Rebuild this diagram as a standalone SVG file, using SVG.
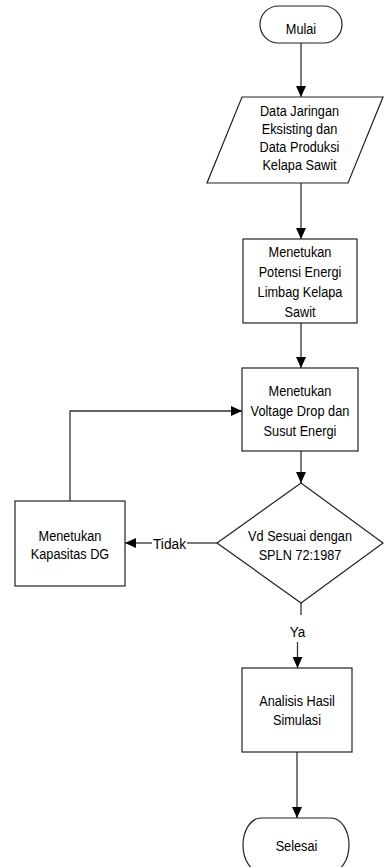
<svg xmlns="http://www.w3.org/2000/svg" width="384" height="867" viewBox="0 0 384 867">
<defs>
<marker id="ah" viewBox="0 0 11 10" refX="11" refY="5" markerWidth="11" markerHeight="10" markerUnits="userSpaceOnUse" orient="auto">
<path d="M0,0 L11,5 L0,10 Z" fill="#000"/>
</marker>
<style>
.s{fill:#fff;stroke:#222;stroke-width:1.2}
.c{fill:none;stroke:#333;stroke-width:1.3}
text{font-family:"Liberation Sans",Arial,sans-serif;font-size:15.5px;fill:#000;text-anchor:middle}
</style>
</defs>
<rect width="384" height="867" fill="#fff"/>
<g id="connectors">
<line class="c" x1="301" y1="43" x2="301" y2="97" marker-end="url(#ah)"/>
<line class="c" x1="301" y1="183" x2="301" y2="239" marker-end="url(#ah)"/>
<line class="c" x1="301" y1="323" x2="301" y2="368" marker-end="url(#ah)"/>
<line class="c" x1="301" y1="451" x2="301" y2="483" marker-end="url(#ah)"/>
<polyline class="c" points="217,543 187,543"/>
<line class="c" x1="152" y1="543" x2="125" y2="543" marker-end="url(#ah)"/>
<text x="169.5" y="548.5" textLength="33" lengthAdjust="spacingAndGlyphs">Tidak</text>
<polyline class="c" points="70,501 70,411 242,411" marker-end="url(#ah)"/>
<line class="c" x1="301" y1="603" x2="301" y2="615"/>
<text x="297.5" y="637" textLength="15.5" lengthAdjust="spacingAndGlyphs">Ya</text>
<line class="c" x1="297.5" y1="642" x2="297.5" y2="668" marker-end="url(#ah)"/>
<line class="c" x1="297" y1="752" x2="297" y2="818" marker-end="url(#ah)"/>
</g>
<g id="mulai">
<rect class="s" x="260" y="6" width="82" height="37" rx="18.5" ry="18.5"/>
<text x="301" y="33.5" textLength="30.4" lengthAdjust="spacingAndGlyphs">Mulai</text>
</g>
<g id="data">
<polygon class="s" points="242,97 383,97 348,183 207,183"/>
<text x="299.5" y="115.5" textLength="79.1" lengthAdjust="spacingAndGlyphs">Data Jaringan</text>
<text x="299.5" y="133.5" textLength="75.6" lengthAdjust="spacingAndGlyphs">Eksisting dan</text>
<text x="299.5" y="151.5" textLength="79.8" lengthAdjust="spacingAndGlyphs">Data Produksi</text>
<text x="299.5" y="169.5" textLength="74.2" lengthAdjust="spacingAndGlyphs">Kelapa Sawit</text>
</g>
<g id="potensi">
<rect class="s" x="243" y="239" width="114" height="84"/>
<text x="300" y="257" textLength="62.9" lengthAdjust="spacingAndGlyphs">Menetukan</text>
<text x="300" y="277" textLength="82.7" lengthAdjust="spacingAndGlyphs">Potensi Energi</text>
<text x="300" y="297" textLength="84.8" lengthAdjust="spacingAndGlyphs">Limbag Kelapa</text>
<text x="300" y="317" textLength="31.1" lengthAdjust="spacingAndGlyphs">Sawit</text>
</g>
<g id="voltage">
<rect class="s" x="242" y="368" width="116" height="83"/>
<text x="300" y="395.5" textLength="62.9" lengthAdjust="spacingAndGlyphs">Menetukan</text>
<text x="300" y="416" textLength="98.9" lengthAdjust="spacingAndGlyphs">Voltage Drop dan</text>
<text x="300" y="436" textLength="72.8" lengthAdjust="spacingAndGlyphs">Susut Energi</text>
</g>
<g id="decision">
<polygon class="s" points="301,483 383,543 301,603 217,543"/>
<text x="300" y="540.5" textLength="103.9" lengthAdjust="spacingAndGlyphs">Vd Sesuai dengan</text>
<text x="300" y="559.5" textLength="82.7" lengthAdjust="spacingAndGlyphs">SPLN 72:1987</text>
</g>
<g id="dg">
<rect class="s" x="15" y="501" width="110" height="85"/>
<text x="70" y="540.5" textLength="62.9" lengthAdjust="spacingAndGlyphs">Menetukan</text>
<text x="70" y="559" textLength="78.4" lengthAdjust="spacingAndGlyphs">Kapasitas DG</text>
</g>
<g id="analisis">
<rect class="s" x="242" y="668" width="110" height="84"/>
<text x="297" y="705.5" textLength="75.6" lengthAdjust="spacingAndGlyphs">Analisis Hasil</text>
<text x="297" y="724.5" textLength="48" lengthAdjust="spacingAndGlyphs">Simulasi</text>
</g>
<g id="selesai">
<rect class="s" x="243" y="818" width="106" height="54" rx="18" ry="27"/>
<text x="296.5" y="850.5" textLength="41.7" lengthAdjust="spacingAndGlyphs">Selesai</text>
</g>
</svg>
